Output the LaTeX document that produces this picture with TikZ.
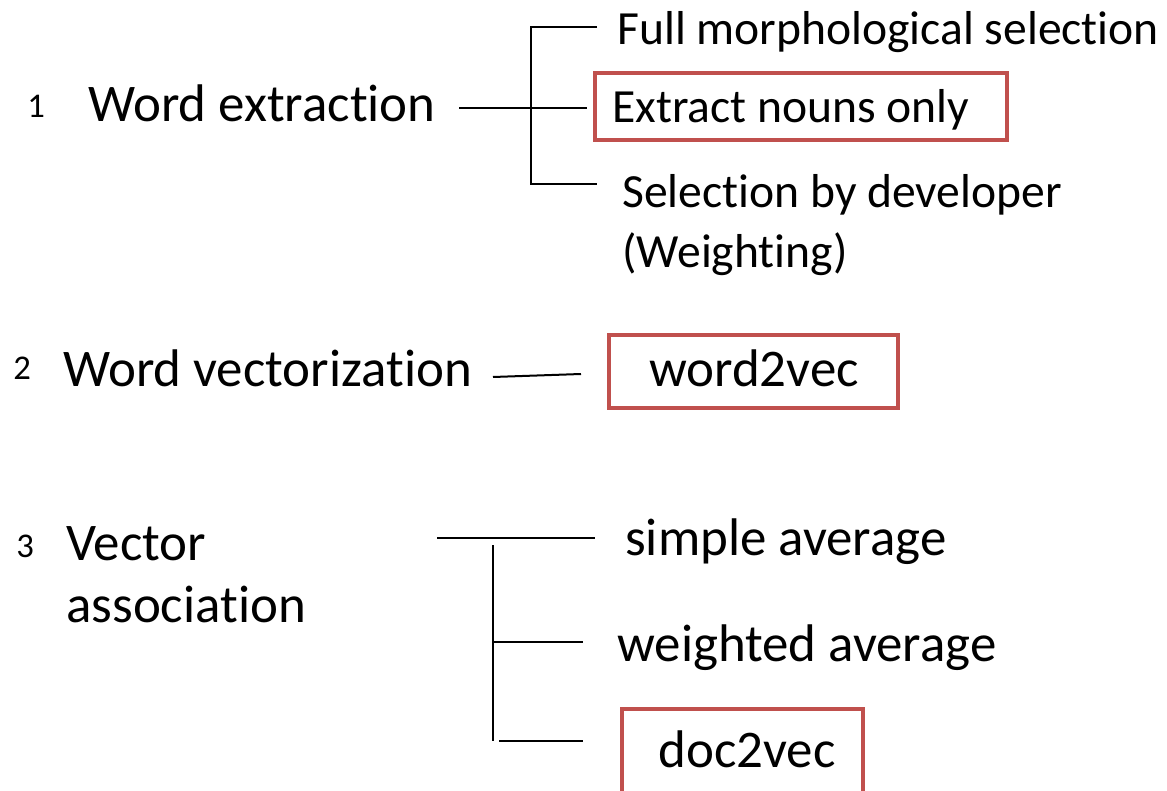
\documentclass[tikz,border=0pt]{standalone}
\usepackage{fontspec}
\setmainfont{Carlito}[Ligatures=NoCommon]
\definecolor{boxred}{HTML}{C0504D}
\newcommand{\tsep}{t\kern0pt i}
\tikzset{
  big/.style={font=\fontsize{39.7}{46}\selectfont, inner sep=0pt, anchor=base west},
  mid/.style={font=\fontsize{35.7}{44}\selectfont, inner sep=0pt, anchor=base west},
  num/.style={font=\fontsize{26}{30}\selectfont, inner sep=0pt, anchor=base west},
  ln/.style={line width=1.5pt, black},
  redbox/.style={draw=boxred, line width=2.6pt, inner sep=0pt}
}
\begin{document}
\begin{tikzpicture}[x=0.75pt,y=-0.75pt]
\useasboundingbox (0,0) rectangle (1167,791);
% Section 1
\node[num] (n1) at (27,118) {1};
\node[big] (we) at (88,122) {Word extrac\tsep on};
\node[mid] (full) at (617,45) {Full morphological selec\tsep on};
\node[redbox, minimum width=412*0.75pt, minimum height=67*0.75pt] (box1) at (801,106.5) {};
\node[mid] (nouns) at (612,123) {Extract nouns only};
\node[mid] (sel) at (622,208) {Selec\tsep on by developer};
\node[mid] (wgt) at (622,268) {(Weigh\tsep ng)};
\coordinate (b1top) at (531,27);
\coordinate (b1bot) at (531,184);
\coordinate (b1l) at (459,108);
\coordinate (b1r) at (587,108);
\coordinate (b1t) at (597,27);
\coordinate (b1b) at (597,184);
\draw[ln] (b1l) -- (b1r);
\draw[ln] (b1t) -- (b1top) -- (b1bot) -- (b1b);
% Section 2
\node[num] (n2) at (13,380) {2};
\node[big] (wv) at (63,387) {Word vectoriza\tsep on};
\node[redbox, minimum width=289*0.75pt, minimum height=73*0.75pt] (box2) at (753.5,371.5) {};
\node[big, anchor=base] (w2v) at (754,387) {word2vec};
\coordinate (l2a) at (493,377);
\coordinate (l2b) at (581,374);
\draw[ln] (l2a) -- (l2b);
% Section 3
\node[num] (n3) at (16,557) {3};
\node[big] (vec) at (66,560) {Vector};
\node[big] (assoc) at (66,622) {associa\tsep on};
\node[big] (sa) at (625,555) {simple average};
\node[big] (wa) at (617,661) {weighted average};
\node[redbox, minimum width=241*0.75pt, minimum height=90*0.75pt] (box3) at (742.5,754) {};
\node[big, anchor=base] (d2v) at (747,767) {doc2vec};
\coordinate (h3l) at (437,538);
\coordinate (h3r) at (595,538);
\coordinate (v3t) at (493,545);
\coordinate (v3b) at (493,741);
\coordinate (m3) at (493,642);
\coordinate (m3r) at (583,642);
\coordinate (b3l) at (499,741);
\coordinate (b3r) at (583,741);
\draw[ln] (h3l) -- (h3r);
\draw[ln] (v3t) -- (v3b);
\draw[ln] (m3) -- (m3r);
\draw[ln] (b3l) -- (b3r);
\end{tikzpicture}
\end{document}
